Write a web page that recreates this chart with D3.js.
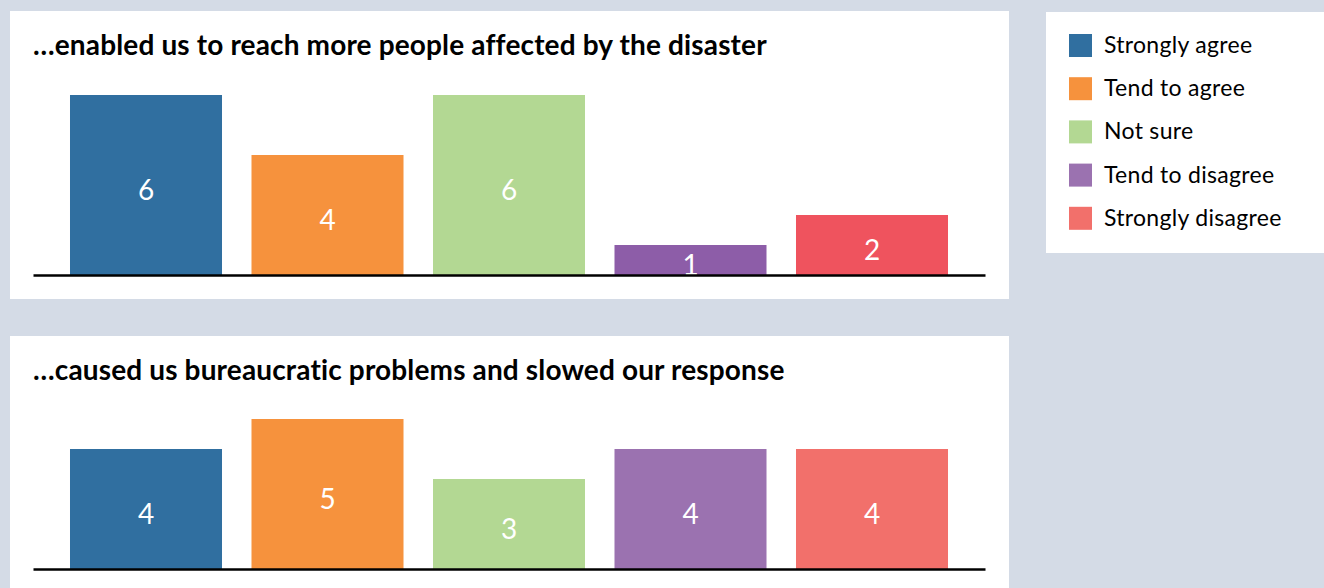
<!DOCTYPE html>
<html>
<head>
<meta charset="utf-8">
<script src="https://cdn.jsdelivr.net/npm/d3@7"></script>
<style>
    body { margin: 0; background: #d4dbe6; }
    svg { display: block; font-family: Lato, "Open Sans", sans-serif; }
</style>
</head>
<body>
<div id="chart"></div>
<script>

// answer categories (legend order)
let categories = ["Strongly agree", "Tend to agree", "Not sure", "Tend to disagree", "Strongly disagree"];

// panel titles
let titles = [
    "\u2026enabled us to reach more people affected by the disaster",
    "\u2026caused us bureaucratic problems and slowed our response"
];

// counts per category
let reachValues = [6, 4, 6, 1, 2];
let bureaucracyValues = [4, 5, 3, 4, 4];

// colours (top panel uses slightly darker purple / red)
let topColors = ["#306fa0", "#f6923d", "#b3d893", "#8d5da8", "#ef535e"];
let bottomColors = ["#306fa0", "#f6923d", "#b3d893", "#9b72b0", "#f2706b"];

let width = 1324, height = 588;

let svg = d3.select("#chart").append("svg")
    .attr("width", width)
    .attr("height", height);

svg.append("rect")
    .attr("width", width)
    .attr("height", height)
    .attr("fill", "#d4dbe6");

// x scale shared by both panels
let x = d3.scaleBand()
    .domain(categories)
    .range([55.25, 962.75])
    .paddingInner(0.1625)
    .paddingOuter(0.08125);

// base = y of the axis line inside the panel
let panels = [
    {title: titles[0], values: reachValues, colors: topColors, top: 11, h: 288, base: 264},
    {title: titles[1], values: bureaucracyValues, colors: bottomColors, top: 336, h: 260, base: 233}
];

panels.forEach(function (p) {
    let g = svg.append("g").attr("transform", `translate(0, ${p.top})`);

    g.append("rect")
        .attr("x", 10)
        .attr("width", 999)
        .attr("height", p.h)
        .attr("fill", "#fff");

    g.append("text")
        .attr("x", 33)
        .attr("y", 44)
        .attr("font-size", 28)
        .attr("letter-spacing", 0.15)
        .attr("font-weight", "bold")
        .attr("fill", "#000")
        .text(p.title);

    // 30px per unit
    let y = d3.scaleLinear()
        .domain([0, 6])
        .range([p.base, p.base - 180]);

    let data = categories.map((c, i) => ({cat: c, value: p.values[i], color: p.colors[i]}));

    g.selectAll(".bar")
        .data(data)
        .enter().append("rect")
        .attr("class", "bar")
        .attr("x", d => x(d.cat))
        .attr("width", x.bandwidth())
        .attr("y", d => y(d.value))
        .attr("height", d => y(0) - y(d.value))
        .attr("fill", d => d.color);

    g.selectAll(".val")
        .data(data)
        .enter().append("text")
        .attr("class", "val")
        .attr("x", d => x(d.cat) + x.bandwidth() / 2)
        .attr("y", d => (y(d.value) + y(0)) / 2 + 3.5)
        .attr("text-anchor", "middle")
        .attr("dominant-baseline", "central")
        .attr("font-size", 28)
        .attr("fill", "#fff")
        .text(d => d.value);

    // axis line
    let axis = d3.axisBottom(d3.scaleLinear().range([33, 985])).ticks(0).tickSizeOuter(0);
    g.append("g")
        .attr("transform", `translate(0, ${y(0)})`)
        .call(axis)
        .select(".domain")
        .attr("stroke", "#000")
        .attr("stroke-width", 2.5);
});

// legend
let legend = svg.append("g");

legend.append("rect")
    .attr("x", 1046)
    .attr("y", 12)
    .attr("width", 278)
    .attr("height", 241)
    .attr("fill", "#fff");

let legendItems = legend.selectAll(".item")
    .data(categories)
    .enter().append("g")
    .attr("class", "item")
    .attr("transform", (d, i) => `translate(1069, ${34 + i * 43.2})`);

legendItems.append("rect")
    .attr("width", 23)
    .attr("height", 23)
    .attr("fill", (d, i) => bottomColors[i]);

legendItems.append("text")
    .attr("x", 35)
    .attr("y", 19)
    .attr("font-size", 23)
    .attr("letter-spacing", 0.3)
    .attr("fill", "#000")
    .text(d => d);

</script>
</body>
</html>
